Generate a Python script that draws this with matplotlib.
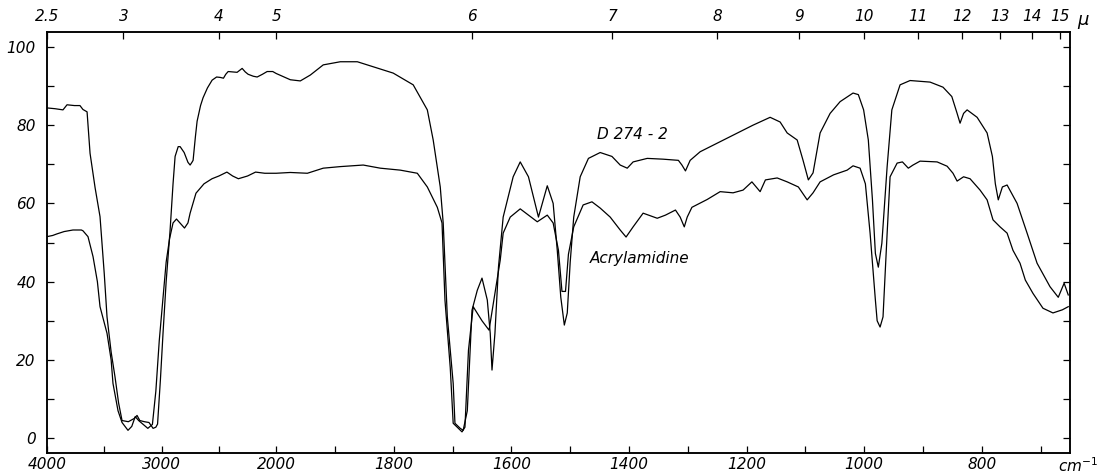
import numpy as np
import matplotlib

matplotlib.use("Agg")
import matplotlib.pyplot as plt  # noqa: E402

# Wavenumber (cm-1) and % transmittance.
wn_d274 = [4000, 3930, 3860, 3825, 3760, 3712, 3686, 3650, 3624, 3580, 3537, 3500,
           3476, 3440, 3406, 3375, 3345, 3290, 3240, 3214, 3190, 3150, 3110, 3074,
           3050, 3035, 3010, 2987, 2960, 2926, 2900, 2882, 2855, 2838, 2803, 2770,
           2751, 2735, 2725, 2705, 2690, 2660, 2638, 2600, 2559, 2520, 2489, 2460,
           2440, 2419, 2380, 2341, 2297, 2270, 2245, 2200, 2166, 2120, 2079, 2030,
           2000, 1976, 1959, 1942, 1920, 1891, 1862, 1828, 1801, 1767, 1743, 1733,
           1721, 1716, 1709, 1699, 1696, 1687, 1682, 1675, 1667, 1658, 1650, 1641,
           1636, 1633, 1628, 1622, 1614, 1597, 1585, 1571, 1554, 1539, 1529, 1522,
           1516, 1510, 1505, 1500, 1494, 1483, 1469, 1449, 1429, 1415, 1403, 1393,
           1369, 1342, 1316, 1310, 1304, 1296, 1279, 1250, 1216, 1189, 1160, 1143,
           1131, 1114, 1104, 1095, 1087, 1075, 1058, 1041, 1019, 1010, 1001, 993,
           986, 981, 976, 970, 961, 953, 939, 922, 888, 866, 851, 842, 837, 831,
           825, 808, 791, 782, 777, 772, 765, 757, 740, 723, 706, 684, 670, 660, 653]
t_d274 = [84.4, 84.2, 83.9, 85.2, 85.0, 85.0, 84.0, 83.4, 72.8, 64, 56.6, 42,
          31, 22, 15.6, 9, 4.5, 4.2, 5.0, 5.8, 4.5, 4.2, 4.0, 2.5,
          2.8, 3.6, 15, 27, 40, 53, 65, 72, 74.5, 74.5, 73, 70.5,
          69.8, 70.5, 71, 77, 81, 85, 87, 89.5, 91.5, 92.3, 92.2, 92,
          93, 93.7, 93.6, 93.5, 94.5, 93.6, 93, 92.5, 92.3, 93, 93.7, 93.7,
          93.2, 91.6, 91.3, 92.8, 95.4, 96.2, 96.2, 94.6, 93.3, 90.3, 83.9, 76.2,
          64.2, 55, 31, 14, 3.8, 2.5, 2.0, 7, 32.7, 37.8, 40.9, 35.3,
          26.8, 17.4, 26.8, 43.7, 56.5, 66.8, 70.6, 66.8, 56.5, 64.5, 60, 48,
          36, 28.9, 32, 45, 56.5, 66.8, 71.5, 73, 72, 69.8, 69, 70.6,
          71.5, 71.3, 71, 69.8, 68.3, 71, 73.2, 75.4, 78, 80, 82, 80.8,
          78, 76.2, 71, 66, 67.8, 78, 83, 86, 88.2, 87.8, 83.9, 76.2,
          60.9, 47.2, 43.7, 49.8, 69.4, 83.9, 90.3, 91.4, 91, 89.7, 87.3, 83, 80.5, 83,
          83.9, 82, 78, 72, 65, 60.9, 64.2, 64.7, 60, 52.4, 44.7, 38.7, 36, 39.6, 36.6]

wn_acryl = [4000, 3950, 3913, 3850, 3773, 3700, 3686, 3642, 3598, 3560, 3537, 3476,
            3440, 3424, 3380, 3345, 3293, 3260, 3230, 3200, 3160, 3120, 3080, 3050,
            3020, 2990, 2960, 2930, 2900, 2870, 2840, 2800, 2770, 2751, 2700, 2630,
            2560, 2500, 2430, 2380, 2330, 2250, 2180, 2100, 2000, 1976, 1947, 1920,
            1891, 1852, 1823, 1789, 1760, 1743, 1726, 1718, 1713, 1704, 1699, 1690,
            1684, 1679, 1673, 1665, 1650, 1638, 1628, 1619, 1614, 1602, 1585, 1571,
            1556, 1539, 1529, 1520, 1514, 1508, 1503, 1494, 1478, 1463, 1449, 1432,
            1415, 1405, 1393, 1376, 1352, 1338, 1321, 1313, 1306, 1301, 1293, 1267,
            1245, 1223, 1206, 1191, 1177, 1168, 1148, 1131, 1112, 1097, 1087, 1075,
            1052, 1029, 1019, 1007, 998, 990, 981, 978, 973, 968, 961, 956,
            944, 935, 925, 917, 905, 876, 859, 849, 842, 831, 820, 803,
            791, 781, 769, 757, 747, 735, 726, 713, 696, 679, 663, 653]
t_acryl = [51.5, 51.8, 52.2, 52.8, 53.2, 53.2, 53.0, 51.5, 46.4, 40, 33.6, 26.8,
           20, 14, 7, 4, 2, 3, 5.5, 4.5, 3.5, 2.5, 3.5, 12,
           25, 35, 45, 51, 55, 56, 55, 53.7, 55, 57.5, 62.6, 65,
           66.3, 67, 68, 67, 66.3, 67, 68, 67.7, 67.7, 67.9, 67.7, 69,
           69.4, 69.8, 69, 68.5, 67.7, 64.2, 59, 55, 35.3, 18, 3.8, 2.5,
           1.6, 2.8, 22.5, 33.6, 30, 27.6, 37, 45.5, 52.4, 56.5, 58.6, 57,
           55.3, 57, 55, 48, 37.5, 37.5, 47, 54, 59.6, 60.4, 58.8, 56.5,
           53.2, 51.4, 54, 57.5, 56.2, 57, 58.3, 56.5, 54, 56.5, 59, 61,
           63, 62.7, 63.4, 65.5, 63, 66, 66.5, 65.5, 64.2, 60.9, 62.7, 65.5,
           67.3, 68.5, 69.6, 69, 65, 52.4, 35.3, 30, 28.4, 31, 52.4, 66.8,
           70.3, 70.6, 69, 69.8, 70.8, 70.6, 69.5, 67.7, 65.7, 66.8, 66.3, 63.4,
           60.9, 55.8, 54, 52.4, 48, 44.7, 40.4, 37, 33.2, 32, 32.8, 33.6]

major_wn = [4000, 3000, 2000, 1800, 1600, 1400, 1200, 1000, 800]
minor_wn = [3500, 2500, 1900, 1700, 1500, 1300, 1100, 900, 700]
microns = [2.5, 3, 4, 5, 6, 7, 8, 9, 10, 11, 12, 13, 14, 15]
micron_labels = ["2.5", "3", "4", "5", "6", "7", "8", "9", "10", "11", "12", "13", "14", "15"]

# grating chart: 4000-2000 is compressed about 5x relative to 2000-650
K = 5.13


def fwd(x):
    x = np.asarray(x, dtype=float)
    return np.where(x <= 2000, x, 2000 + (x - 2000) / K)


def inv(u):
    u = np.asarray(u, dtype=float)
    return np.where(u <= 2000, u, 2000 + (u - 2000) * K)


FONT = dict(family="DejaVu Sans", style="italic", size=11)

fig = plt.figure(figsize=(10.97, 4.75), dpi=100)
ax = fig.add_axes([0.0428, 0.0463, 0.9326, 0.8863])

ax.plot(wn_d274, t_d274, color="black", lw=0.9)
ax.plot(wn_acryl, t_acryl, color="black", lw=0.9)

ax.set_xscale("function", functions=(fwd, inv))
ax.set_xlim(4000, 650)
ax.set_ylim(-3.8, 103.8)

ax.set_xticks(major_wn)
ax.set_xticklabels([str(v) for v in major_wn], fontdict=FONT)
ax.set_xticks(minor_wn, minor=True)
ax.set_yticks(range(0, 101, 20))
ax.set_yticklabels([str(v) for v in range(0, 101, 20)], fontdict=FONT)
ax.set_yticks(range(10, 100, 20), minor=True)
ax.tick_params(which="both", direction="in", length=5, width=0.9,
               right=True, top=False)
ax.tick_params(axis="x", pad=3)
ax.tick_params(axis="y", pad=8)

top = ax.twiny()
top.set_xscale("function", functions=(fwd, inv))
top.set_xlim(4000, 650)
top.set_xticks([1e4 / m for m in microns])
top.set_xticklabels(micron_labels, fontdict=FONT)
top.tick_params(direction="in", length=5, width=0.9, pad=6)

for a in (ax, top):
    for s in a.spines.values():
        s.set_linewidth(1.1)

ax.text(1454, 77.5, "D 274 - 2", ha="left", va="center", **FONT)
ax.text(1466, 46, "Acrylamidine", ha="left", va="center", **FONT)

fig.text(1078 / 1097, 1 - 466 / 475, "cm$^{-1}$", ha="center", va="center",
         family="DejaVu Sans", style="italic", size=11)
fig.text(1083 / 1097, 1 - 20 / 475, "\u03bc", ha="center", va="center",
         family="DejaVu Sans", style="italic", size=13)

fig.savefig("out.png", dpi=100)
